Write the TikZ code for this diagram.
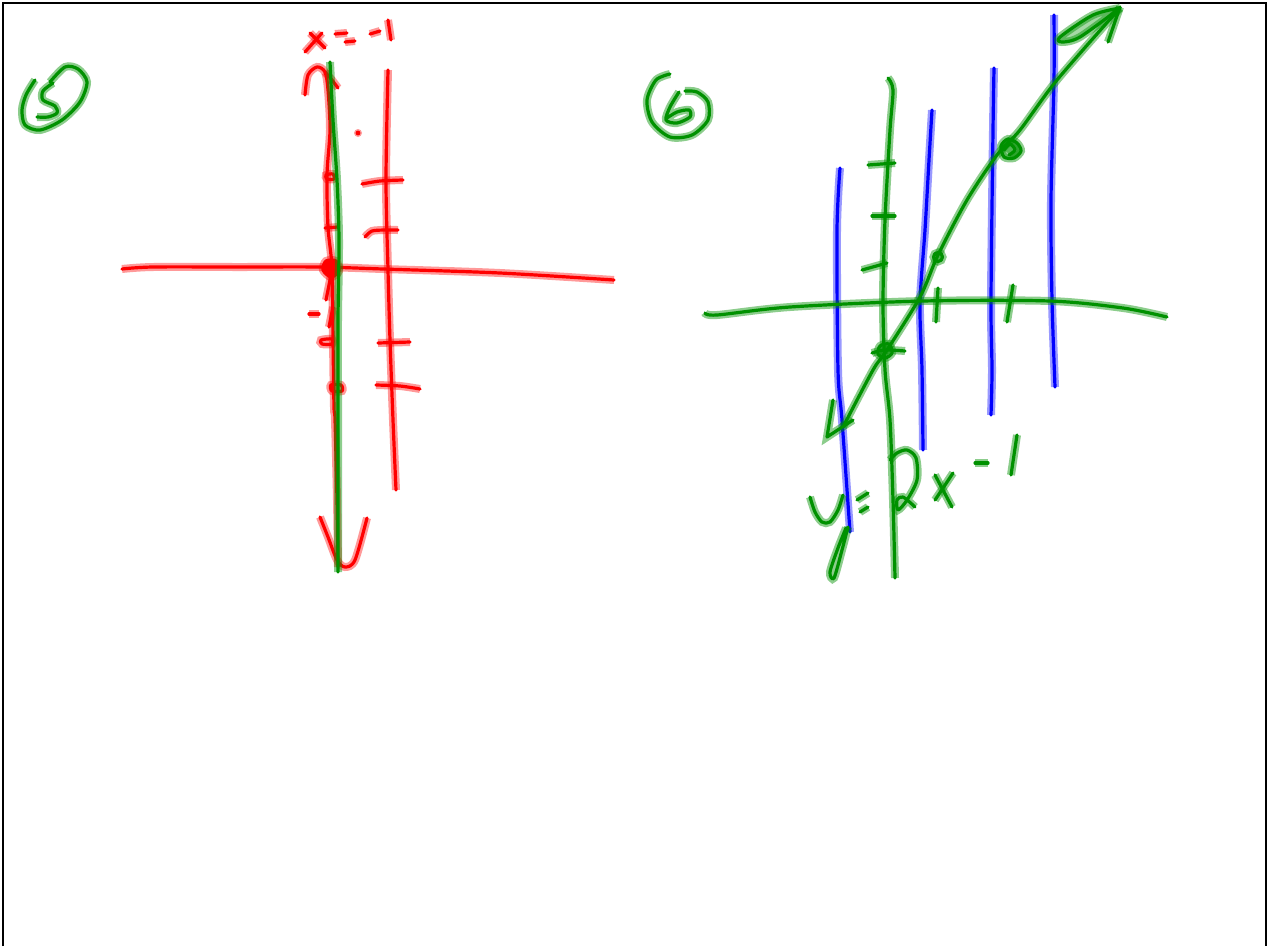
\documentclass[tikz,border=0pt]{standalone}
\definecolor{pg}{RGB}{0,145,0}
\definecolor{pr}{RGB}{255,0,0}
\definecolor{pb}{RGB}{0,0,255}
\tikzset{
  rp/.style={draw=pr, line width=3.2, line cap=round, line join=round, preaction={draw=pr, draw opacity=.4, line width=8}},
  gp/.style={draw=pg, line width=3.2, line cap=round, line join=round, preaction={draw=pg, draw opacity=.45, line width=8}},
  bp/.style={draw=pb, line width=3.2, line cap=round, line join=round, preaction={draw=pb, draw opacity=.4, line width=8}},
  frame/.style={draw=black, line width=2}
}
\begin{document}
\begin{tikzpicture}[x=1pt,y=-1pt]
\useasboundingbox (0,0) rectangle (1268,946);
\fill[white] (0,0) rectangle (1268,946);
% frame
\draw[frame] (3,946) -- (3,3) -- (1266,3) -- (1266,946);

% ---------- label 5 ----------
\draw[gp] plot[smooth] coordinates {(35,80) (26,95) (22,110) (25,125) (40,130) (62,120) (80,102) (87,82) (78,69) (65,67) (50,82)};
\draw[gp] plot[smooth] coordinates {(53,83) (43,91) (43,100) (55,106) (57,113) (48,117) (37,117)};

% ---------- label 6 ----------
\draw[gp] plot[smooth] coordinates {(670,74) (656,80) (647,100) (652,122) (670,137) (692,135) (708,120) (708,102) (697,92) (685,91)};
\draw[gp] plot[smooth] coordinates {(679,92) (670,107) (666,120) (677,123) (690,117) (689,110) (677,112) (667,118)};

% ---------- section 5 (red) ----------
% x=-1
\draw[rp] (310,33) -- (325,48);
\draw[rp] (322,33) -- (305,52);
\draw[rp] (335,34) -- (347,33);
\draw[rp] (345,42) -- (355,41);
\draw[rp] (370,34) -- (380,31);
\draw[rp] (388,20) -- (391,40);
% dot
\fill[pr] (358,133) circle (2.4);
\fill[pr, opacity=.4] (358,133) circle (4);
% line x=-1
\draw[rp] plot[smooth] coordinates {(388,70) (386,180) (388,270) (390,340) (393,420) (396,490)};
\draw[rp] plot[smooth] coordinates {(362,184) (380,181) (403,180)};
\draw[rp] plot[smooth] coordinates {(365,237) (372,231) (385,230) (398,230)};
\draw[rp] (378,343) -- (410,342);
\draw[rp] plot[smooth] coordinates {(376,385) (400,386) (420,389)};
% horizontal axis
\draw[rp] plot[smooth] coordinates {(122,269) (153,267) (240,267) (320,267) (383,269) (500,273) (614,280)};
% vertical axis red with top arch
\draw[rp] plot[smooth] coordinates {(305,95) (308,75) (317,67) (325,72) (328,90) (330,130) (327,175) (328,227) (332,268) (333,340) (334,407) (335,420) (337,500) (338,567)};
\draw[rp] plot[smooth] coordinates {(325,72) (332,80) (338,88)};
% bottom arrowhead
\draw[rp] plot[smooth] coordinates {(320,517) (328,537) (337,560) (345,567) (355,560) (367,518)};
% small marks on red axis
\draw[rp] plot[smooth cycle] coordinates {(326,175) (333,174) (334,179) (327,179)};
\draw[rp] (325,228) -- (338,227);
\draw[rp, fill=pr] plot[smooth cycle] coordinates {(326,261) (336,261) (339,271) (331,277) (323,270)};
\draw[rp] (332,270) -- (326,300);
\draw[rp] (333,307) -- (329,327);
\draw[rp] (309,314) -- (319,314);
\draw[rp] plot[smooth cycle] coordinates {(321,340) (332,339) (332,344) (322,344)};
\draw[rp] plot[smooth cycle] coordinates {(331,385) (341,385) (342,391) (332,391)};
% green axis over red
\draw[gp] plot[smooth] coordinates {(330,62) (333,120) (337,180) (339,240) (338,320) (338,400) (338,480) (338,572)};

% ---------- section 6 ----------
% blue lines
\draw[bp] plot[smooth] coordinates {(840,168) (837,230) (838,370) (842,420) (850,532)};
\draw[bp] plot[smooth] coordinates {(932,110) (929,160) (925,230) (920,303) (922,370) (923,450)};
\draw[bp] plot[smooth] coordinates {(994,68) (993,130) (991,300) (992,370) (991,415)};
\draw[bp] plot[smooth] coordinates {(1054,15) (1054,80) (1051,200) (1052,300) (1055,387)};
% green y axis
\draw[gp] plot[smooth] coordinates {(888,78) (893,90) (890,130) (885,220) (883,303) (885,370) (890,420) (893,500) (895,578)};
\draw[gp] (868,165) -- (895,163);
\draw[gp] (872,216) -- (895,216);
\draw[gp] (862,270) -- (887,263);
% green x axis
\draw[gp] plot[smooth] coordinates {(705,313) (717,315) (790,307) (923,301) (1050,301) (1123,308) (1167,317)};
\draw[gp] (938,288) -- (936,322);
\draw[gp] (1013,285) -- (1007,322);
% line y=2x-1
\draw[gp] plot[smooth] coordinates {(843,427) (873,370) (887,350) (920,297) (938,255) (967,200) (997,155) (1020,130) (1057,80) (1120,8)};
% lower-left arrowhead
\draw[gp] (833,400) -- (827,437) -- (853,420);
% upper-right arrowhead
\draw[gp] (1120,7) -- (1108,42);
\draw[gp, fill=pg, fill opacity=.35] plot[smooth] coordinates {(1120,8) (1093,15) (1060,37) (1062,42) (1080,37) (1120,8)};
% points on line
\draw[gp] (938,257) circle (4.5);
\draw[gp, fill=pg, fill opacity=.4] plot[smooth cycle] coordinates {(1001,146) (1008,139) (1017,143) (1021,151) (1014,158) (1004,157)};
\draw[gp] plot[smooth] coordinates {(1004,150) (1010,144) (1015,150) (1009,155)};
\draw[gp] plot[smooth] coordinates {(872,353) (885,350) (905,351)};
\draw[gp] plot[smooth cycle] coordinates {(880,346) (889,344) (892,353) (885,358) (878,354)};
% y = 2x - 1
\draw[gp] plot[smooth] coordinates {(810,497) (815,512) (822,522) (830,522) (838,510) (843,495)};
\draw[gp] plot[smooth] coordinates {(848,527) (842,550) (834,578) (830,572) (838,548) (846,528)};
\draw[gp] (857,500) -- (868,493);
\draw[gp] (860,512) -- (868,507);
\draw[gp] plot[smooth] coordinates {(890,460) (897,453) (907,450) (916,458) (917,480) (907,500) (898,510) (897,500) (903,497) (915,507)};
\draw[gp] (935,475) -- (952,507);
\draw[gp] (953,473) -- (935,500);
\draw[gp] (975,463) -- (988,463);
\draw[gp] (1017,435) -- (1011,475);
\end{tikzpicture}
\end{document}
